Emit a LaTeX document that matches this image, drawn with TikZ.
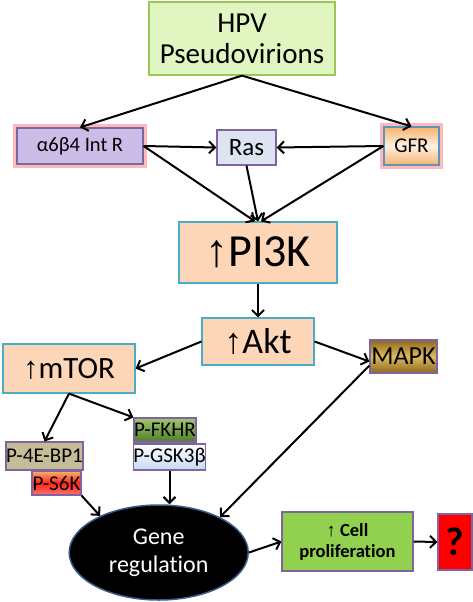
\documentclass[tikz,border=0pt]{standalone}
\usepackage{fontspec}
\setmainfont{Carlito}[Ligatures=NoCommon]
\newfontfamily\arw{Liberation Sans}
\newcommand\upar{{\arw ↑}}
\usetikzlibrary{shapes.geometric,arrows.meta}
\definecolor{hpvfill}{RGB}{225,245,192}
\definecolor{hpvline}{RGB}{155,199,89}
\definecolor{peach}{RGB}{252,214,182}
\definecolor{pkline}{RGB}{75,172,198}
\definecolor{purp}{RGB}{128,100,162}
\definecolor{lav}{RGB}{204,188,232}
\definecolor{rasfill}{RGB}{220,228,242}
\definecolor{orng}{RGB}{246,180,110}
\definecolor{gold}{RGB}{140,105,30}
\definecolor{goldlt}{RGB}{222,186,96}
\definecolor{khaki}{RGB}{196,189,151}
\definecolor{fkhrlt}{RGB}{160,200,110}
\definecolor{fkhrdk}{RGB}{80,125,40}
\definecolor{gsk}{RGB}{198,217,241}
\definecolor{genel}{RGB}{56,93,138}
\definecolor{cellg}{RGB}{146,208,80}
\tikzset{
  bp1c/.style={fill=khaki},
  s6kc/.style={top color=orng,bottom color=red!55,middle color=red!80!orng},
  fkhrc/.style={top color=fkhrlt,bottom color=fkhrdk},
  gskc/.style={top color=white,bottom color=gsk}}
\begin{document}
\begin{tikzpicture}[x=1pt,y=-1pt,
  box/.style={rectangle,draw=purp,line width=1.2pt,inner sep=0pt,align=center},
  pk/.style={box,draw=pkline,fill=peach},
  glow/.style={preaction={draw=red!55,line width=8pt,opacity=.5}},
  arr/.style={line width=2pt,-{Straight Barb[length=6pt,width=12pt]}}]
\useasboundingbox (0,0) rectangle (473,602);
% receptors
\node[box,draw=hpvline,fill=hpvfill,minimum width=186,minimum height=73,
  font=\fontsize{29}{31}\selectfont] (hpv) at (242,38.5) {HPV\\Pseudovirions};
\node[box,glow,fill=lav,minimum width=126,minimum height=36,
  font=\fontsize{20.5}{24}\selectfont] (int) at (80,146) {α6β4 Int R};
\node[box,fill=rasfill,minimum width=59,minimum height=35,
  font=\fontsize{25}{26}\selectfont] (ras) at (246.5,147.5) {Ras};
\node[box,glow,draw=pkline!70!purp,top color=orng,bottom color=orng,middle color=orng!20,
  minimum width=55,minimum height=38,font=\fontsize{21}{23}\selectfont] (gfr) at (411.5,146) {GFR};
% kinases
\node[pk,minimum width=158,minimum height=61,font=\fontsize{46}{50}\selectfont]
  (pi3k) at (258,252.5) {\upar PI3K};
\node[pk,minimum width=112,minimum height=47,font=\fontsize{36}{40}\selectfont]
  (akt) at (258,341.5) {\upar Akt};
\node[pk,minimum width=132,minimum height=49,font=\fontsize{31}{36}\selectfont]
  (mtor) at (69,368.5) {\upar mTOR};
\node[box,top color=gold,bottom color=gold,middle color=goldlt,minimum width=67,
  minimum height=33,font=\fontsize{26}{28}\selectfont] (mapk) at (403.5,356.5) {MAPK};
% substrates
\foreach \n/\x/\y/\w/\h/\c/\t in
  {bp1/44.5/456/77/28/bp1c/P-4E-BP1,
   s6k/56.5/483/49/24/s6kc/P-S6K,
   fkhr/165/430/62/24/fkhrc/P-FKHR,
   gsk/169.5/457/71/26/gskc/P-GSK3β}
  \node[box,\c,minimum width=\w,minimum height=\h,font=\fontsize{21}{24}\selectfont]
    (\n) at (\x,\y) {\t};
% outcome
\node[ellipse,draw=genel,line width=1.5pt,fill=black,text=white,minimum width=179,
  minimum height=95,inner sep=0pt,align=center,font=\fontsize{24}{28}\selectfont]
  (gene) at (158.7,552.5) {Gene\\regulation};
\node[box,fill=cellg,minimum width=131,minimum height=59,
  font=\fontsize{18.5}{21}\selectfont\bfseries] (cell) at (347.5,541.5) {\upar\ Cell\\proliferation};
\node[box,fill=red,minimum width=34,minimum height=56,
  font=\fontsize{40}{44}\selectfont\bfseries] (q) at (455,542) {?};
% connectors
\foreach \a/\b in {hpv.south/int.north, hpv.south/gfr.north, int.east/ras.west,
    gfr.west/ras.east, ras.south/pi3k.north, pi3k.south/akt.north, akt.west/mtor.east,
    mtor.south/bp1.north, mtor.south/fkhr.north west, s6k.south east/gene.148,
    gene.east/cell.west, cell.east/q.west}
  \draw[arr] (\a) -- (\b);
\draw[arr] (int.east) -- ([xshift=-3pt]pi3k.north);
\draw[arr] (gfr.west) -- ([xshift=3pt]pi3k.north);
\draw[arr] (akt.east) -- ([yshift=-5pt]mapk.west);
\draw[arr] ([yshift=-9pt]mapk.west) -- (gene.30);
\draw[arr] (gsk.south) -- (gsk.south |- gene.north);
\end{tikzpicture}
\end{document}
